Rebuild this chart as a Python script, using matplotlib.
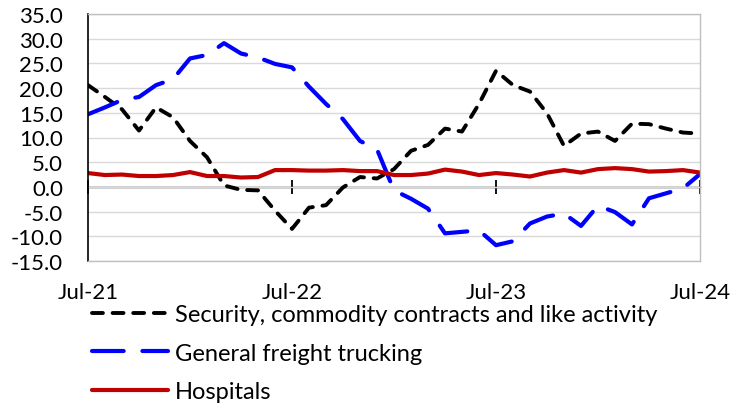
import matplotlib.pyplot as plt

plt.rcParams['font.family'] = ['Lato', 'DejaVu Sans']

# monthly values, Jul-21 .. Jul-24
months = list(range(37))
tick_months = [0, 12, 24, 36]
tick_labels = ['Jul-21', 'Jul-22', 'Jul-23', 'Jul-24']

security = [20.6, 18.2, 15.7, 11.4, 16.1, 14.1, 9.3, 6.0, 0.3, -0.6,
            -0.7, -4.8, -8.5, -4.2, -3.7, -0.1, 2.0, 1.7, 3.6, 7.3,
            8.5, 11.8, 11.2, 16.8, 23.5, 20.6, 19.3, 14.9, 8.3, 10.8,
            11.2, 9.3, 12.8, 12.7, 11.8, 11.0, 10.8]
trucking = [14.7, 16.1, 17.6, 18.2, 20.6, 21.8, 26.0, 26.7, 29.1, 27.0,
            26.2, 24.9, 24.2, 20.3, 16.8, 13.7, 9.3, 7.6, -0.7, -2.4,
            -4.4, -9.4, -9.1, -8.8, -11.8, -11.0, -7.4, -6.0, -5.4, -7.9,
            -3.8, -5.1, -7.6, -2.3, -1.3, -0.3, 2.6]
hospitals = [2.8, 2.4, 2.5, 2.2, 2.2, 2.4, 3.0, 2.2, 2.2, 1.9,
             2.0, 3.4, 3.4, 3.3, 3.3, 3.4, 3.2, 3.2, 2.4, 2.4,
             2.7, 3.5, 3.1, 2.4, 2.8, 2.5, 2.1, 2.9, 3.4, 2.9,
             3.6, 3.8, 3.6, 3.1, 3.2, 3.4, 2.9]

fig = plt.figure(figsize=(7.45, 4.06), dpi=100)
ax = fig.add_axes([88 / 745, 1 - 262 / 406, 612 / 745, 247 / 406])

ax.plot(months, security, color='black', lw=2.8, dashes=(2.8, 2.5),
        dash_capstyle='round', label='Security, commodity contracts and like activity')
ax.plot(months, trucking, color='#0000FF', lw=3.0, dashes=(7.6, 4.5),
        dash_capstyle='round', label='General freight trucking')
ax.plot(months, hospitals, color='#C00000', lw=3.0,
        solid_capstyle='round', label='Hospitals')

ax.set_xlim(0, 36)
ax.set_ylim(-15, 35)
ax.set_yticks(range(-15, 40, 5))
ax.set_yticklabels([f'{v:.1f}' for v in range(-15, 40, 5)], fontsize=16)
ax.yaxis.grid(True, color='#D9D9D9', lw=1)
ax.set_axisbelow(True)
ax.tick_params(axis='y', length=0, pad=18)

ax.set_xticks(tick_months)
ax.set_xticklabels(tick_labels, fontsize=16)
ax.tick_params(axis='x', length=0, pad=15)

for s in ['top', 'right', 'bottom']:
    ax.spines[s].set_color('#BFBFBF')
    ax.spines[s].set_linewidth(1)
ax.spines['left'].set_color('black')
ax.spines['left'].set_linewidth(1.2)

# zero line with crossing tick marks
zero_ax = ax.secondary_xaxis(15 / 50)
zero_ax.set_xticks(tick_months)
zero_ax.tick_params(axis='x', direction='inout', length=10, width=1.3,
                    color='black', labelbottom=False, labeltop=False)
zero_ax.spines['bottom'].set_color('black')
zero_ax.spines['bottom'].set_linewidth(1)

ax.legend(loc='upper left', bbox_to_anchor=(92 / 745, 1 - 305 / 406),
          bbox_transform=fig.transFigure, frameon=False, fontsize=17,
          handlelength=3.2, handletextpad=0.3, labelspacing=0.75,
          borderpad=0, borderaxespad=0)

fig.savefig('out.png', dpi=100)
